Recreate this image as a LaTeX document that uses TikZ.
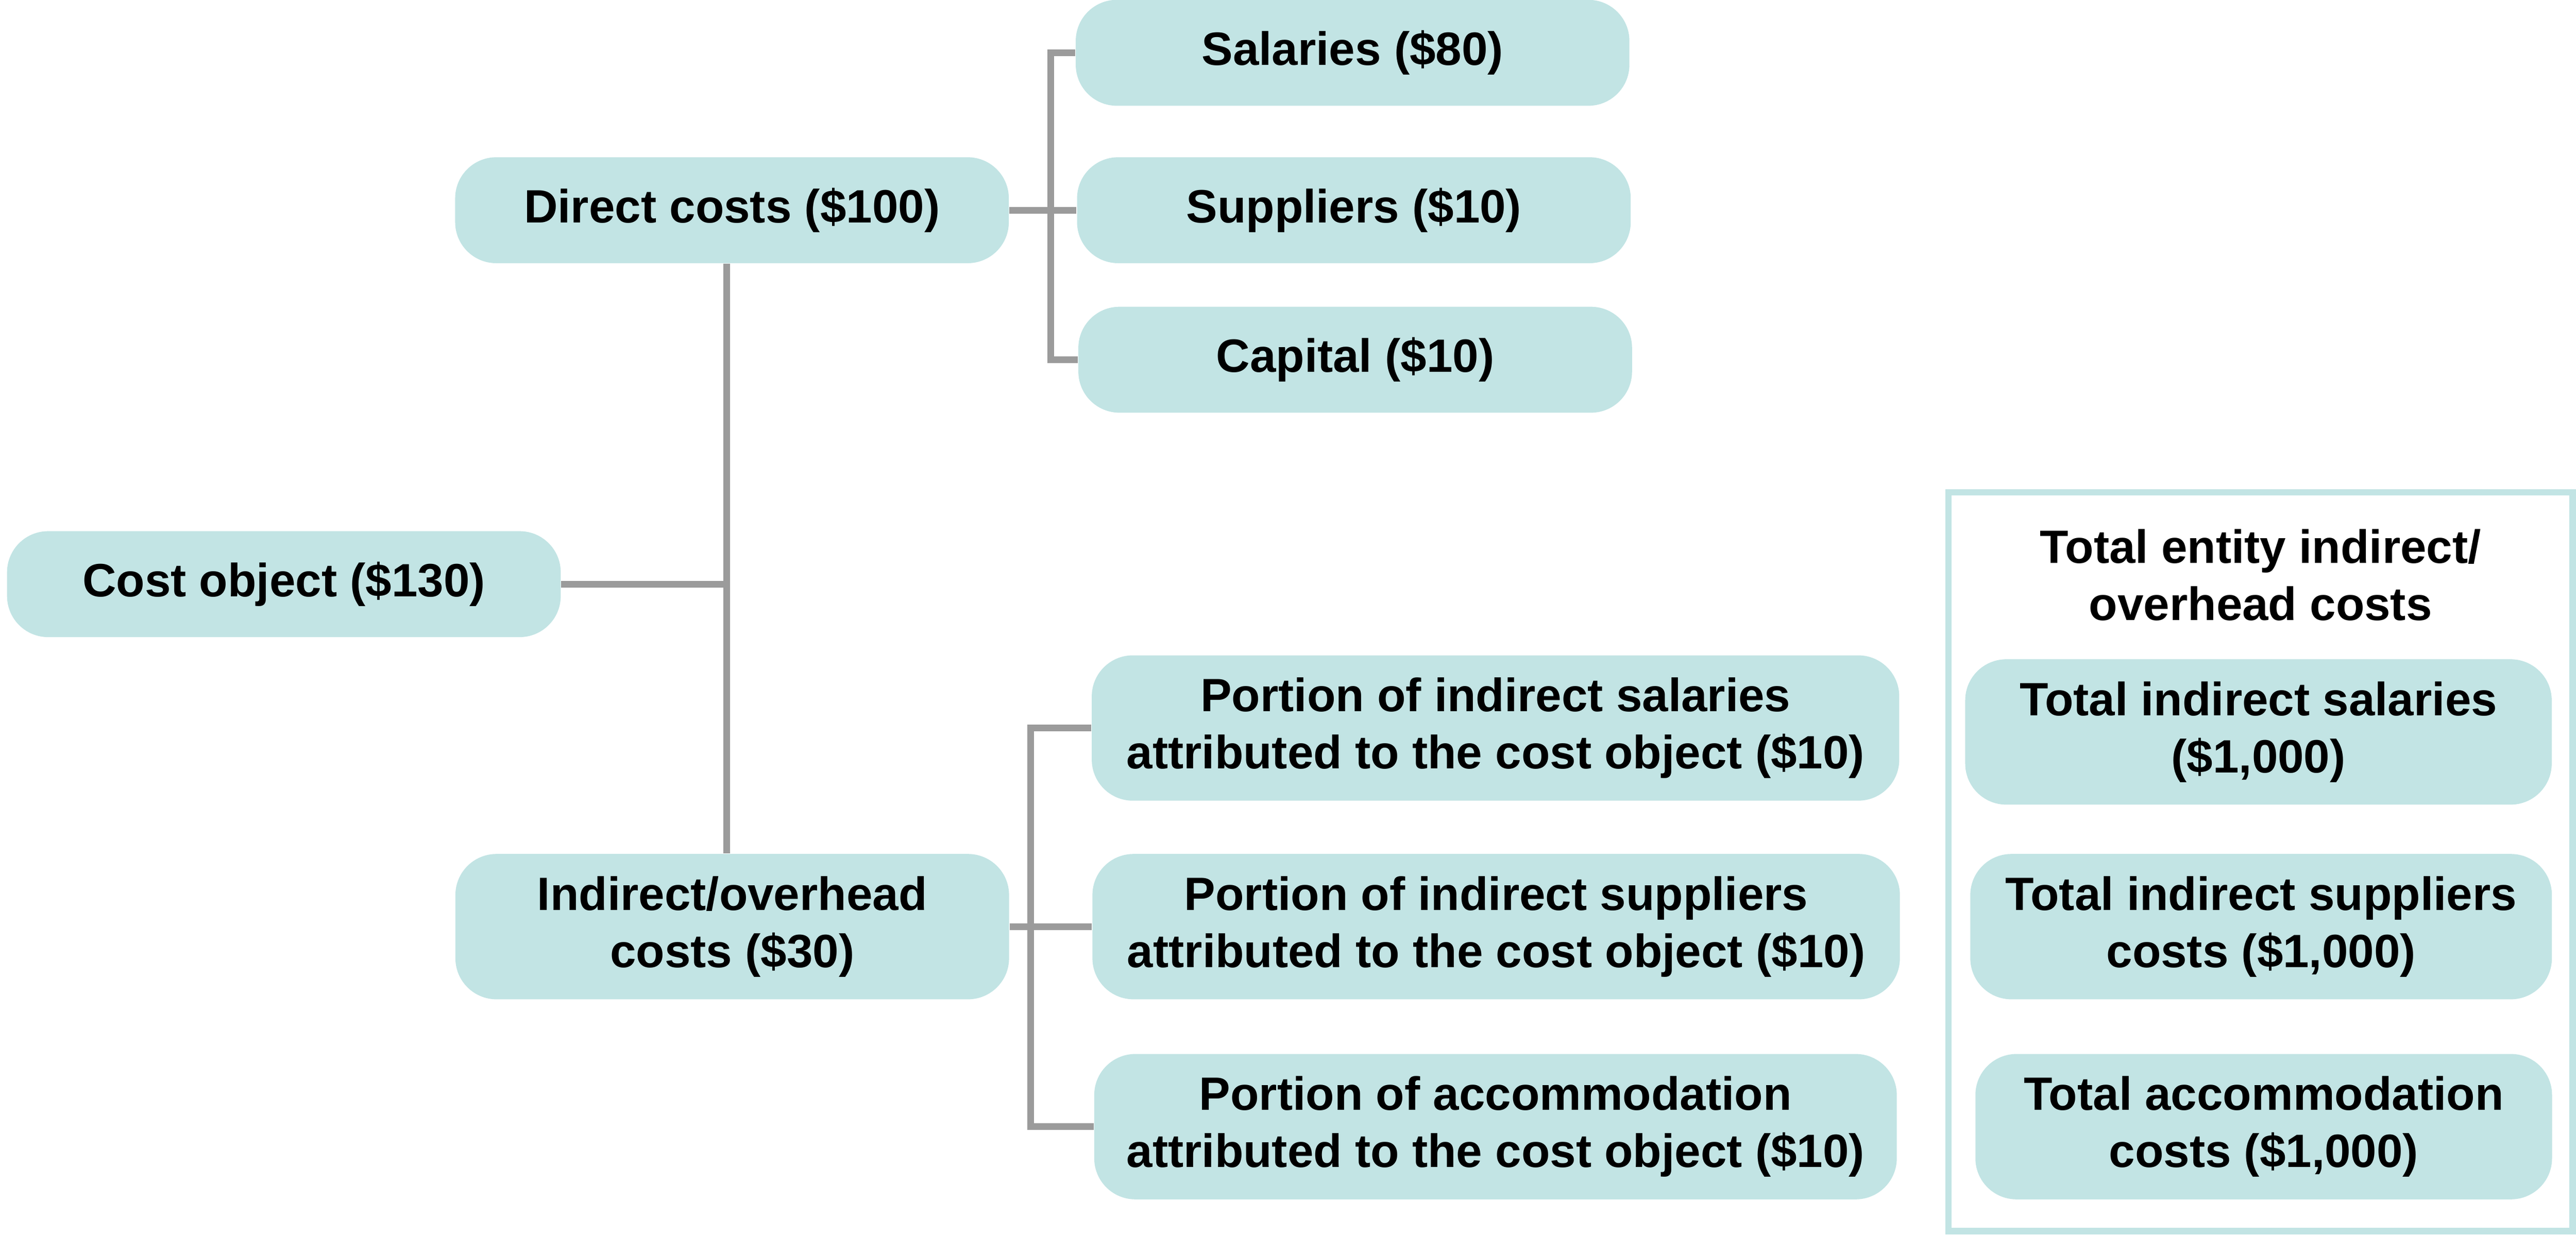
\documentclass[tikz,border=0pt]{standalone}
\usepackage{fontspec}
\setmainfont{Liberation Sans}
\usepackage{xcolor}
\usetikzlibrary{positioning,calc}
\definecolor{boxteal}{HTML}{C2E4E4}
\definecolor{linegray}{HTML}{9B9B9B}

\begin{document}
\begin{tikzpicture}[
  costbox/.style={rectangle, fill=boxteal, rounded corners=0.5cm,
    minimum width=6.74cm, minimum height=1.29cm, inner sep=0pt, align=center,
    font=\fontsize{16.2}{19.8}\selectfont\bfseries},
  tallbox/.style={costbox, minimum height=1.77cm},
  conn/.style={draw=linegray, line width=0.08cm},
  frame/.style={rectangle, draw=boxteal, line width=0.08cm, inner sep=0pt},
  heading/.style={font=\fontsize{16.2}{19.8}\selectfont\bfseries, align=center, inner sep=0pt},
]
  \useasboundingbox (0,0) rectangle (31.36,-15.047);

  % Main tree
  \node[costbox] (co) at (3.456,-7.114) {Cost object (\$130)};
  \node[costbox] (direct) at (8.911,-2.56) {Direct costs (\$100)};
  \node[tallbox] (indirect) at (8.914,-11.285) {Indirect/overhead\\costs (\$30)};

  % Direct cost items
  \node[costbox] (sal) at (16.466,-0.643) {Salaries (\$80)};
  \node[costbox] (sup) at (16.482,-2.56) {Suppliers (\$10)};
  \node[costbox] (cap) at (16.498,-4.381) {Capital (\$10)};

  % Indirect cost portions
  \node[tallbox, minimum width=9.83cm] (p1) at (18.206,-8.866)
    {Portion of indirect salaries\\attributed to the cost object (\$10)};
  \node[tallbox, minimum width=9.83cm] (p2) at (18.214,-11.285)
    {Portion of indirect suppliers\\attributed to the cost object (\$10)};
  \node[tallbox, minimum width=9.77cm] (p3) at (18.206,-13.721)
    {Portion of accommodation\\attributed to the cost object (\$10)};

  % Entity totals
  \node[frame, minimum width=7.6cm, minimum height=8.995cm] (totals) at (27.52,-10.4935) {};
  \node[heading, anchor=north] (title) at (27.52,-6.44)
    {Total entity indirect/\\overhead costs};
  \node[tallbox, minimum width=7.14cm] (t1) at (27.494,-8.914)
    {Total indirect salaries\\(\$1,000)};
  \node[tallbox, minimum width=7.08cm] (t2) at (27.526,-11.285)
    {Total indirect suppliers\\costs (\$1,000)};
  \node[tallbox, minimum width=7.02cm] (t3) at (27.558,-13.721)
    {Total accommodation\\costs (\$1,000)};

  % Connectors
  \coordinate (mj) at (8.846,-7.114);
  \coordinate (dj) at (12.793,-2.56);
  \coordinate (ij) at (12.547,-11.285);
  \draw[conn] (mj |- direct.south) -- (mj |- indirect.north);
  \draw[conn] (co.east) -- (mj);
  \draw[conn] (direct.east) -- (sup.west);
  \draw[conn] (sal.west) -| (dj) |- (cap.west);
  \draw[conn] (indirect.east) -- (p2.west);
  \draw[conn] (p1.west) -| (ij) |- (p3.west);
\end{tikzpicture}
\end{document}
